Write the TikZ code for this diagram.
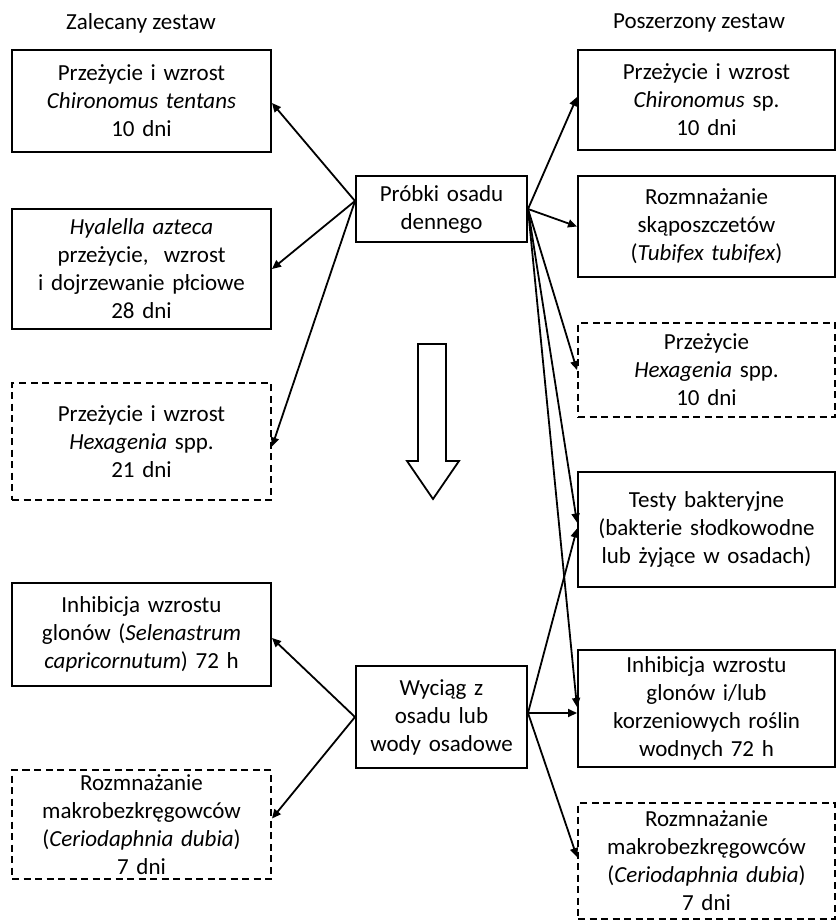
\documentclass[tikz,border=0pt]{standalone}
\usepackage{fontspec}
\setmainfont{Carlito}
\usetikzlibrary{arrows.meta}
\begin{document}
\begin{tikzpicture}[x=1pt,y=-1pt,
  every node/.style={font=\fontsize{23}{28}\selectfont},
  box/.style={draw, line width=2pt, inner sep=0pt, align=center,
    text width=250pt, minimum width=259pt},
  rbox/.style={box, minimum width=257pt},
  cbox/.style={draw, line width=2pt, inner sep=0pt, align=center,
    text width=165pt, minimum width=171pt},
  opt/.style={dash pattern=on 7pt off 4.5pt},
  conn/.style={line width=1.8pt, -{Triangle[length=9pt,width=8pt]}},
  head/.style={inner sep=0pt}]
\useasboundingbox (0,0) rectangle (836,921);

% column headings
\node[head] (hl) at (141,23) {Zalecany zestaw};
\node[head] (hr) at (699,23) {Poszerzony zestaw};

% sources
\node[cbox, minimum height=66pt] (P) at (441.5,209) {Próbki osadu\\dennego};
\node[cbox, minimum height=102pt] (W) at (441.5,717) {Wyciąg z\\osadu lub\\wody osadowe};

% recommended set (left)
\node[box, minimum height=102pt] (L1) at (141.5,101)
  {Przeżycie i wzrost\\\textit{Chironomus tentans}\\10 dni};
\node[box, minimum height=120pt] (L2) at (141.5,269)
  {\textit{Hyalella azteca}\\przeżycie,~ wzrost\\i dojrzewanie płciowe\\28 dni};
\node[box, opt, minimum height=117pt] (L3) at (141.5,441.5)
  {Przeżycie i wzrost\\\textit{Hexagenia} spp.\\21 dni};
\node[box, minimum height=103pt] (L4) at (141.5,634.5)
  {Inhibicja wzrostu\\glonów (\textit{Selenastrum}\\\textit{capricornutum}) 72 h};
\node[box, opt, minimum height=109pt] (L5) at (141.5,824.5)
  {Rozmnażanie\\makrobezkręgowców\\(\textit{Ceriodaphnia dubia})\\7 dni};

% extended set (right)
\node[rbox, minimum height=100pt] (R1) at (706.5,100)
  {Przeżycie i wzrost\\\textit{Chironomus} sp.\\10 dni};
\node[rbox, minimum height=101pt] (R2) at (706.5,226.5)
  {Rozmnażanie\\skąposzczetów\\(\textit{Tubifex tubifex})};
\node[rbox, opt, minimum height=94pt] (R3) at (706.5,370)
  {Przeżycie\\\textit{Hexagenia} spp.\\10 dni};
\node[rbox, minimum height=115pt] (R4) at (706.5,529.5)
  {Testy bakteryjne\\(bakterie słodkowodne\\lub żyjące w osadach)};
\node[rbox, minimum height=117pt] (R5) at (706.5,708.5)
  {Inhibicja wzrostu\\glonów i/lub\\korzeniowych roślin\\wodnych 72 h};
\node[rbox, opt, minimum height=116pt] (R6) at (706.5,861)
  {Rozmnażanie\\makrobezkręgowców\\(\textit{Ceriodaphnia dubia})\\7 dni};

% connector origins
\coordinate (Pl) at ([yshift=8pt]P.west);
\coordinate (Pr) at (P.east);
\coordinate (Wl) at (W.west);
\coordinate (Wr) at ([yshift=4pt]W.east);

% connectors from the sediment samples
\draw[conn] (Pl) -- ([yshift=-2pt]L1.east);
\draw[conn] (Pl) -- (L2.east);
\draw[conn] (Pl) -- ([yshift=-5pt]L3.east);
\draw[conn] (Pr) -- ([yshift=3pt]R1.west);
\draw[conn] (Pr) -- (R2.west);
\draw[conn] (Pr) -- (R3.west);
\draw[conn] (Pr) -- ([yshift=7pt]R4.west);
\draw[conn] (Pr) -- ([yshift=1.5pt]R5.west);

% connectors from the extract / pore water
\draw[conn] (Wl) -- ([yshift=-3.5pt]L4.east);
\draw[conn] (Wl) -- ([yshift=6pt]L5.east);
\draw[conn] (Wr) -- ([yshift=1pt]R4.west);
\draw[conn] (Wr) -- ([yshift=-4.5pt]R5.west);
\draw[conn] (Wr) -- ([yshift=4pt]R6.west);

% block arrow between the two stages
\draw[line width=1.8pt, line join=miter]
  (418,344) -- (446,344) -- (446,461) -- (459,461) -- (433,499)
  -- (407,461) -- (418,461) -- cycle;
\end{tikzpicture}
\end{document}
